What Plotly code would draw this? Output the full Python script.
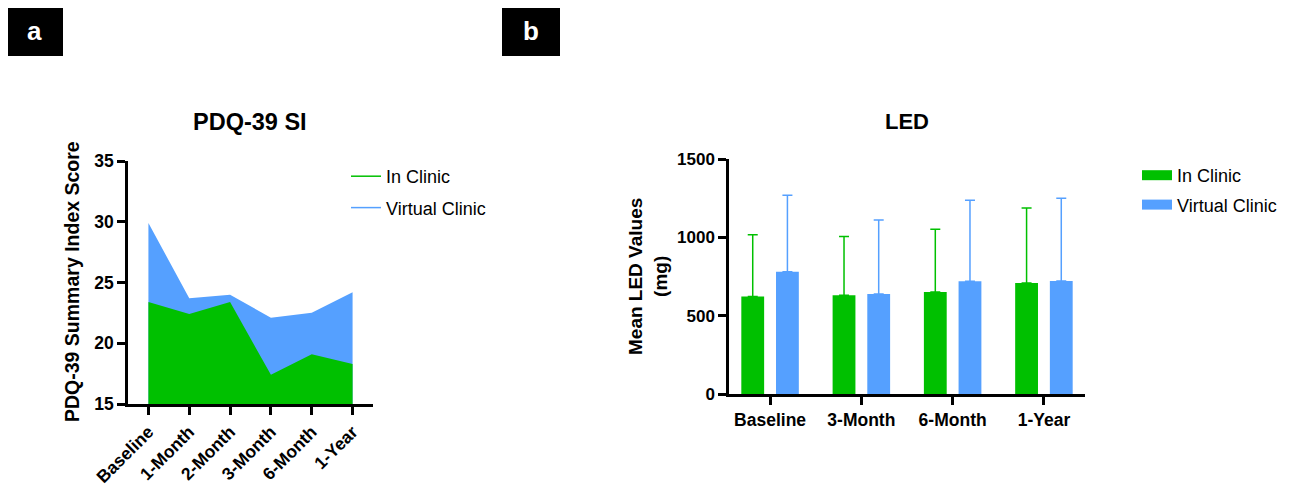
import plotly.graph_objects as go

# ---------------- data ----------------
pdq_time = ["Baseline", "1-Month", "2-Month", "3-Month", "6-Month", "1-Year"]
pdq_in_clinic = [23.4, 22.4, 23.4, 17.4, 19.1, 18.3]
pdq_virtual = [29.9, 23.7, 24.0, 22.1, 22.5, 24.2]

led_time = ["Baseline", "3-Month", "6-Month", "1-Year"]
led_in_clinic = [623, 630, 651, 709]
led_in_clinic_upper = [1017, 1006, 1051, 1187]
led_virtual = [781, 638, 719, 721]
led_virtual_upper = [1268, 1111, 1236, 1249]

series_names = ["In Clinic", "Virtual Clinic"]

GREEN = "#00C000"
BLUE = "#55A0FF"
FONT = "Arial, Liberation Sans, sans-serif"
W, H = 1298, 486
OFF = 8  # page body margin: figure is drawn 8px right/down of the window origin


def px(x):
    """screen x (px) -> paper fraction"""
    return (x - OFF) / W


def py(y):
    """screen y (px, from top) -> paper fraction"""
    return 1 - (y - OFF) / H


fig = go.Figure()

# ---- panel a: area chart (virtual behind, in-clinic in front) ----
fig.add_trace(go.Scatter(x=pdq_time, y=pdq_virtual, mode="lines", fill="tozeroy",
                         line=dict(color=BLUE, width=0), fillcolor=BLUE,
                         showlegend=False, xaxis="x", yaxis="y", hoverinfo="skip"))
fig.add_trace(go.Scatter(x=pdq_time, y=pdq_in_clinic, mode="lines", fill="tozeroy",
                         line=dict(color=GREEN, width=0), fillcolor=GREEN,
                         showlegend=False, xaxis="x", yaxis="y", hoverinfo="skip"))
# legend entries (line style) for panel a
for name, col, grp in [(series_names[0], GREEN, "a1"), (series_names[1], BLUE, "a2")]:
    fig.add_trace(go.Scatter(x=[None], y=[None], mode="lines", name=name,
                             line=dict(color=col, width=1.5), legend="legend",
                             legendgroup=grp, xaxis="x", yaxis="y"))

# ---- panel b: bars with upper SD ----
fig.add_trace(go.Bar(x=led_time, y=led_in_clinic, name=series_names[0],
                     marker=dict(color=GREEN, line=dict(width=0)),
                     width=0.25, offset=-0.315, showlegend=False,
                     error_y=dict(type="data", symmetric=False,
                                  array=[u - m for u, m in zip(led_in_clinic_upper, led_in_clinic)],
                                  arrayminus=[0] * len(led_in_clinic),
                                  color=GREEN, thickness=1.5, width=5),
                     xaxis="x2", yaxis="y2"))
fig.add_trace(go.Bar(x=led_time, y=led_virtual, name=series_names[1],
                     marker=dict(color=BLUE, line=dict(width=0)),
                     width=0.25, offset=0.065, showlegend=False,
                     error_y=dict(type="data", symmetric=False,
                                  array=[u - m for u, m in zip(led_virtual_upper, led_virtual)],
                                  arrayminus=[0] * len(led_virtual),
                                  color=BLUE, thickness=1.5, width=5),
                     xaxis="x2", yaxis="y2"))
for name, col, grp in [(series_names[0], GREEN, "b1"), (series_names[1], BLUE, "b2")]:
    fig.add_trace(go.Scatter(x=[None], y=[None], mode="lines", name=name,
                             line=dict(color=col, width=10), legend="legend2",
                             legendgroup=grp, xaxis="x2", yaxis="y2"))

axis_common = dict(showline=True, linecolor="black", linewidth=2.5, ticks="outside",
                   ticklen=8, tickwidth=2.5, tickcolor="black", showgrid=False,
                   zeroline=False, mirror=False, automargin=False)


def tf(size):
    return dict(family=FONT, size=size, color="black", weight="bold")


fig.update_layout(
    template="none",
    width=W, height=H, autosize=False,
    margin=dict(l=0, r=0, t=0, b=0, pad=0, autoexpand=False),
    paper_bgcolor="white", plot_bgcolor="white",
    barmode="overlay",
    font=dict(family=FONT, color="black"),
    xaxis=dict(domain=[px(128), px(373)], range=[-0.5, 5.5], type="category",
               tickangle=-45, anchor="y", tickfont=tf(17.5), **axis_common),
    yaxis=dict(domain=[py(404), py(161)], range=[15, 35], tickvals=[15, 20, 25, 30, 35],
               anchor="x", tickfont=tf(17.5), **axis_common),
    xaxis2=dict(domain=[px(729), px(1085)], range=[-0.45, 3.45], type="category",
                anchor="y2", tickfont=tf(17.5), **axis_common),
    yaxis2=dict(domain=[py(394), py(159)], range=[0, 1500], tickvals=[0, 500, 1000, 1500],
                anchor="x2", tickfont=tf(17), **axis_common),
    legend=dict(x=px(346), y=py(158), xanchor="left", yanchor="top",
                font=dict(family=FONT, size=18, color="black"),
                bgcolor="rgba(0,0,0,0)", traceorder="grouped", tracegroupgap=5),
    legend2=dict(x=px(1137), y=py(157), xanchor="left", yanchor="top",
                 font=dict(family=FONT, size=18, color="black"),
                 bgcolor="rgba(0,0,0,0)", traceorder="grouped", tracegroupgap=3),
    showlegend=True,
)

centered = dict(xref="paper", yref="paper", showarrow=False,
                xanchor="center", yanchor="middle")
annotations = [
    dict(text="<b>PDQ-39 SI</b>", x=px(250), y=py(122),
         font=dict(family=FONT, size=23.5, color="black"), **centered),
    dict(text="<b>LED</b>", x=px(907), y=py(121),
         font=dict(family=FONT, size=22, color="black"), **centered),
    dict(text="<b>PDQ-39 Summary Index Score</b>", x=px(72), y=py(282), textangle=-90,
         font=dict(family=FONT, size=19.5, color="black"), **centered),
    dict(text="<b>Mean LED Values<br>(mg)</b>", x=px(648), y=py(277), textangle=-90,
         font=dict(family=FONT, size=19, color="black"), **centered),
    dict(text="<b>a</b>", x=px(34.5), y=py(31),
         font=dict(family=FONT, size=26, color="white"), **centered),
    dict(text="<b>b</b>", x=px(531), y=py(31),
         font=dict(family=FONT, size=26, color="white"), **centered),
]
shapes = [
    dict(type="rect", xref="paper", yref="paper", x0=px(6), x1=px(63), y0=py(56), y1=py(6),
         fillcolor="black", line=dict(width=0), layer="below"),
    dict(type="rect", xref="paper", yref="paper", x0=px(502), x1=px(560), y0=py(56), y1=py(6),
         fillcolor="black", line=dict(width=0), layer="below"),
]
fig.update_layout(annotations=annotations, shapes=shapes)

fig.write_html("out.html")
